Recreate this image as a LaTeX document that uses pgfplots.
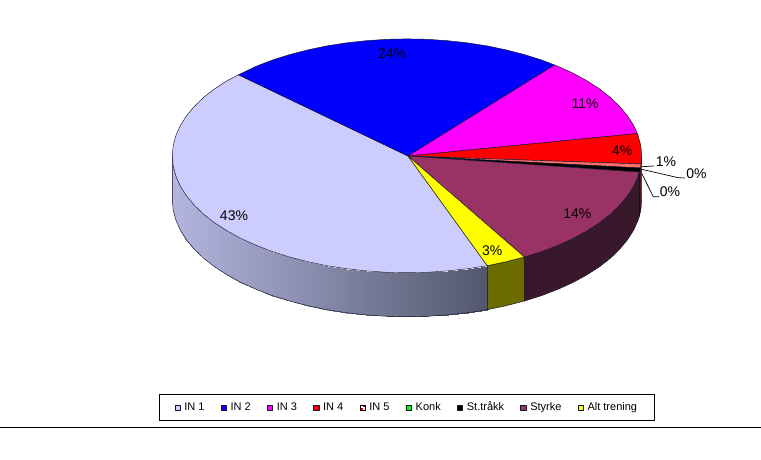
\documentclass[border=0pt]{standalone}
\usepackage{fontspec}
\setmainfont{Liberation Sans}
\usepackage{pgfplots}
\pgfplotsset{compat=1.18}
\definecolor{cIN1}{RGB}{204,204,255}
\definecolor{cIN2}{RGB}{0,0,255}
\definecolor{cIN3}{RGB}{255,0,255}
\definecolor{cIN4}{RGB}{255,0,0}
\definecolor{cIN5}{RGB}{255,110,110}
\definecolor{cKonk}{RGB}{0,255,0}
\definecolor{cStyrke}{RGB}{153,51,102}
\definecolor{cAlt}{RGB}{255,255,0}
\definecolor{sStyrke}{RGB}{58,24,44}
\definecolor{sAlt}{RGB}{107,107,0}
\definecolor{edge}{RGB}{20,20,40}
\pgfplotsset{
  swatch/.style={legend image code/.code={\draw[##1,line width=0.6pt] (0pt,-2.6pt) rectangle (5.2pt,2.6pt);}},
  wedge/.style={draw=edge,line width=0.45pt,line join=round,mark=none,area legend,swatch},
}
\begin{document}
\begin{tikzpicture}
\path[use as bounding box] (0,0) rectangle (761pt,459pt);
\begin{axis}[
  at={(0,0)},anchor=south west,
  scale only axis,width=761pt,height=459pt,
  xmin=0,xmax=761,ymin=0,ymax=459,y dir=reverse,
  axis lines=none,clip=false,
  colormap={side}{rgb255(0)=(180,182,224) rgb255(1)=(82,87,108)},
  point meta min=172,point meta max=488,
  legend columns=9,
  legend cell align=left,
  legend style={at={(axis cs:406.8,407.5)},anchor=center,draw=black,line width=0.8pt,fill=white,
    font=\fontsize{11}{13}\selectfont,
    nodes={text height=8pt,text depth=2.5pt},
    inner xsep=15.5pt,inner ysep=6pt,
    /tikz/every odd column/.append style={column sep=2pt},
    /tikz/every even column/.append style={column sep=14.3pt},
  },
]
% rule under the chart
\addplot[black,line width=0.8pt,mark=none,forget plot] coordinates {(0,427.5) (761,427.5)};
% side of IN 1 (gradient)
\addplot[surf,shader=interp,point meta=x,forget plot] table {
x y
172.3 155.8
172.3 199.8

173.2 166.0
173.2 210.0

175.9 176.1
175.9 220.1

180.3 186.1
180.3 230.1

186.5 195.8
186.5 239.8

194.3 205.2
194.3 249.2

203.7 214.3
203.7 258.3

214.7 222.9
214.7 266.9

227.2 230.9
227.2 274.9

241.0 238.5
241.0 282.5

256.1 245.3
256.1 289.3

272.4 251.6
272.4 295.6

289.6 257.0
289.6 301.0

307.8 261.7
307.8 305.7

326.7 265.7
326.7 309.7

346.3 268.7
346.3 312.7

366.2 270.9
366.2 314.9

386.5 272.3
386.5 316.3

407.0 272.7
407.0 316.7

427.5 272.3
427.5 316.3

447.8 270.9
447.8 314.9

467.7 268.7
467.7 312.7

487.3 265.7
487.3 309.7
};
\addplot[draw=edge,line width=0.45pt,mark=none,forget plot] coordinates {
(172.3,155.8) (172.3,199.8) (173.2,210.0) (175.9,220.1) (180.3,230.1) (186.5,239.8) (194.3,249.2) (203.7,258.3) (214.7,266.9) (227.2,274.9) (241.0,282.5) (256.1,289.3) (272.4,295.6) (289.6,301.0) (307.8,305.7) (326.7,309.7) (346.3,312.7) (366.2,314.9) (386.5,316.3) (407.0,316.7) (427.5,316.3) (447.8,314.9) (467.7,312.7) (487.3,309.7)};
% side of Alt trening
\addplot[fill=sAlt,draw=edge,line width=0.45pt,mark=none,forget plot] coordinates {
(487.3,265.7) (506.2,261.7) (524.4,257.0) (524.4,301.0) (506.2,305.7) (487.3,309.7)} --cycle;
% side of Styrke
\addplot[fill=sStyrke,draw=edge,line width=0.45pt,mark=none,forget plot] coordinates {
(524.4,257.0) (541.6,251.6) (557.9,245.3) (573.0,238.5) (586.8,230.9) (599.3,222.9) (610.3,214.3) (619.7,205.2) (627.5,195.8) (633.7,186.1) (638.1,176.1) (639.4,172.1)
(639.4,216.1) (638.1,220.1) (633.7,230.1) (627.5,239.8) (619.7,249.2) (610.3,258.3) (599.3,266.9) (586.8,274.9) (573.0,282.5) (557.9,289.3) (541.6,295.6) (524.4,301.0)} --cycle;
% narrow sides at the right
\addplot[fill=black,draw=black,line width=0.3pt,mark=none,forget plot] coordinates {(639.4,172.1) (640.4,168.0) (640.4,212.0) (639.4,216.1)} --cycle;
\addplot[fill=cIN4!50!black,draw=black,line width=0.3pt,mark=none,forget plot] coordinates {(640.4,168.0) (641.1,164.0) (641.7,155.8) (641.7,199.8) (641.1,208.0) (640.4,212.0)} --cycle;
% tops
\addplot[wedge,fill=cIN1] coordinates {
(408,156) (238.5,74.8) (227.2,80.7) (214.7,88.7) (203.7,97.3) (194.3,106.4) (186.5,115.8) (180.3,125.5) (175.9,135.5) (173.2,145.6) (172.3,155.8) (173.2,166.0) (175.9,176.1) (180.3,186.1) (186.5,195.8) (194.3,205.2) (203.7,214.3) (214.7,222.9) (227.2,230.9) (241.0,238.5) (256.1,245.3) (272.4,251.6) (289.6,257.0) (307.8,261.7) (326.7,265.7) (346.3,268.7) (366.2,270.9) (386.5,272.3) (407.0,272.7) (427.5,272.3) (447.8,270.9) (467.7,268.7) (487.3,265.7)} --cycle;
\addlegendentry{IN 1}
\addplot[wedge,fill=cIN2] coordinates {
(408,156) (554.7,65.0) (541.6,60.0) (524.4,54.6) (506.2,49.9) (487.3,45.9) (467.7,42.9) (447.8,40.7) (427.5,39.3) (407.0,38.9) (386.5,39.3) (366.2,40.7) (346.3,42.9) (326.7,45.9) (307.8,49.9) (289.6,54.6) (272.4,60.0) (256.1,66.3) (238.5,74.8)} --cycle;
\addlegendentry{IN 2}
\addplot[wedge,fill=cIN3] coordinates {
(408,156) (637.4,133.5) (633.7,125.5) (627.5,115.8) (619.7,106.4) (610.3,97.3) (599.3,88.7) (586.8,80.7) (573.0,73.1) (557.9,66.3) (554.7,65.0)} --cycle;
\addlegendentry{IN 3}
\addplot[wedge,fill=cIN4] coordinates {
(408,156) (641.1,164.0) (641.7,155.8) (640.8,145.6) (638.1,135.5) (637.4,133.5)} --cycle;
\addlegendentry{IN 4}
\addplot[draw=edge,line width=0.45pt,mark=none,fill=cIN5,area legend,
  legend image code/.code={\draw[draw=black,fill=red,line width=0.6pt] (0pt,-2.6pt) rectangle (5.2pt,2.6pt);
    \fill[white] (1pt,0.2pt) rectangle (2.4pt,1.6pt);\fill[white] (2.9pt,-1.6pt) rectangle (4.2pt,-0.2pt);}]
  coordinates {(408,156) (640.4,168.0) (641.1,164.0)} --cycle;
\addlegendentry{IN 5}
\addplot[wedge,fill=cKonk] coordinates {(408,156) (408,156)} --cycle;
\addlegendentry{Konk}
\addplot[wedge,fill=black] coordinates {(408,156) (639.4,172.1) (640.4,168.0)} --cycle;
\addlegendentry{St.tråkk}
\addplot[wedge,fill=cStyrke] coordinates {
(408,156) (524.4,257.0) (541.6,251.6) (557.9,245.3) (573.0,238.5) (586.8,230.9) (599.3,222.9) (610.3,214.3) (619.7,205.2) (627.5,195.8) (633.7,186.1) (638.1,176.1) (639.4,172.1)} --cycle;
\addlegendentry{Styrke}
\addplot[wedge,fill=cAlt] coordinates {(408,156) (487.3,265.7) (506.2,261.7) (524.4,257.0)} --cycle;
\addlegendentry{Alt trening}
% leader lines
\addplot[black,line width=0.7pt,mark=none,forget plot] coordinates {(641.7,166.7) (654,166)};
\addplot[black,line width=0.7pt,mark=none,forget plot] coordinates {(641.7,169.3) (678.3,177.7) (685,178)};
\addplot[black,line width=0.7pt,mark=none,forget plot] coordinates {(641.7,173.3) (653.3,196.7) (659.3,196.7)};
% labels
\begin{scope}[every node/.style={font=\fontsize{14}{16}\selectfont,inner sep=0pt,anchor=center}]
\node at (axis cs:234,215.7) {43\%};
\node at (axis cs:392,54) {24\%};
\node at (axis cs:585,104) {11\%};
\node at (axis cs:622.3,150.7) {4\%};
\node at (axis cs:666,161.7) {1\%};
\node at (axis cs:696.5,173.5) {0\%};
\node at (axis cs:670,191.7) {0\%};
\node at (axis cs:577.3,214) {14\%};
\node at (axis cs:492.3,250.7) {3\%};
\end{scope}
\end{axis}
\end{tikzpicture}
\end{document}
